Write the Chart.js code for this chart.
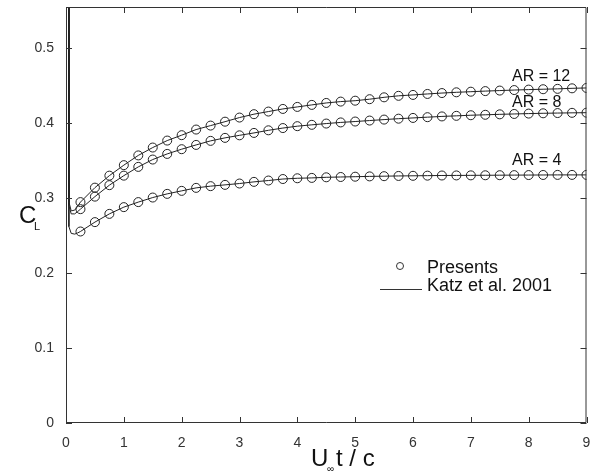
<!DOCTYPE html>
<html lang="en">
<head>
    <meta charset="UTF-8">
    <title>CL vs time</title>
    <style>
        body {
            margin: 0;
            padding: 0;
            background: #fff;
            overflow: hidden;
        }
        canvas {
            display: block;
        }
    </style>
</head>
<body>
    <canvas id="plot" width="592" height="472"></canvas>

    <script src="https://cdn.jsdelivr.net/npm/chart.js"></script>
    <script>
        // time samples of the "Presents" markers (U t / c)
        const timeSteps = [0.25, 0.5, 0.75, 1, 1.25, 1.5, 1.75, 2, 2.25, 2.5, 2.75, 3,
            3.25, 3.5, 3.75, 4, 4.25, 4.5, 4.75, 5, 5.25, 5.5, 5.75, 6,
            6.25, 6.5, 6.75, 7, 7.25, 7.5, 7.75, 8, 8.25, 8.5, 8.75, 9];

        const presentsAR12 = [0.2947, 0.314, 0.330, 0.344, 0.357, 0.3675, 0.3768, 0.384, 0.3915, 0.3968, 0.402, 0.4075,
            0.412, 0.4155, 0.419, 0.4217, 0.4244, 0.427, 0.4288, 0.430, 0.432, 0.4345, 0.4365, 0.4377,
            0.439, 0.4402, 0.4412, 0.442, 0.4428, 0.4435, 0.4442, 0.4448, 0.4453, 0.4458, 0.4465, 0.447];
        const presentsAR8 = [0.2853, 0.302, 0.3173, 0.330, 0.3417, 0.3515, 0.359, 0.3653, 0.371, 0.3764, 0.3804, 0.3838,
            0.387, 0.3905, 0.3935, 0.396, 0.3978, 0.3995, 0.401, 0.4022, 0.4035, 0.4048, 0.406, 0.407,
            0.408, 0.409, 0.4098, 0.4106, 0.4112, 0.4118, 0.4123, 0.4128, 0.4132, 0.4135, 0.4138, 0.414];
        const presentsAR4 = [0.2555, 0.268, 0.279, 0.288, 0.2947, 0.3008, 0.3057, 0.3097, 0.3137, 0.316, 0.3177, 0.3195,
            0.3217, 0.3235, 0.3255, 0.3265, 0.327, 0.3278, 0.3282, 0.3286, 0.329, 0.3293, 0.3296, 0.3298,
            0.330, 0.3302, 0.3303, 0.3304, 0.3305, 0.3306, 0.3307, 0.3308, 0.3309, 0.331, 0.331, 0.331];

        // Katz et al. 2001: impulsive start before the first marker, then it runs through the markers
        const katzStartX = [0.045, 0.05, 0.09, 0.15, 0.2];
        const katzStartAR12 = [0.6, 0.295, 0.283, 0.284, 0.289];
        const katzStartAR8 = [0.6, 0.29, 0.279, 0.279, 0.282];
        const katzStartAR4 = [0.6, 0.262, 0.253, 0.252, 0.2535];

        const xTicks = [0, 1, 2, 3, 4, 5, 6, 7, 8, 9];
        const yTicks = [0, 0.1, 0.2, 0.3, 0.4, 0.5];
        const curveLabels = ['AR = 12', 'AR = 8', 'AR = 4'];

        function toPoints(xs, ys) {
            return xs.map((x, i) => ({ x: x, y: ys[i] }));
        }

        function katzLine(startY, values) {
            return toPoints(katzStartX.concat(timeSteps), startY.concat(values));
        }

        const ink = '#222';
        const fontFamily = '"Liberation Sans", Arial, sans-serif';
        Chart.defaults.font.family = fontFamily;
        Chart.defaults.color = '#333';

        function presentsSet(values) {
            return {
                label: 'Presents',
                data: toPoints(timeSteps, values),
                showLine: false,
                pointStyle: 'circle',
                pointRadius: 4.5,
                pointBorderWidth: 1,
                pointBorderColor: ink,
                pointBackgroundColor: 'rgba(0,0,0,0)'
            };
        }

        function katzSet(startY, values) {
            return {
                label: 'Katz et al. 2001',
                data: katzLine(startY, values),
                showLine: true,
                borderColor: ink,
                borderWidth: 1,
                pointRadius: 0,
                tension: 0
            };
        }

        // frame, inward ticks, axis titles, legend and curve labels
        const decorations = {
            id: 'decorations',
            afterDraw(chart) {
                const ctx = chart.ctx;
                const a = chart.chartArea;
                const xs = chart.scales.x;
                const ys = chart.scales.y;
                ctx.save();
                ctx.strokeStyle = '#333';
                ctx.lineWidth = 1;
                ctx.beginPath();
                ctx.moveTo(a.left + 0.5, a.top + 0.5);
                ctx.lineTo(a.right - 0.5, a.top + 0.5);
                ctx.lineTo(a.right - 0.5, a.bottom - 0.5);
                ctx.lineTo(a.left + 0.5, a.bottom - 0.5);
                ctx.closePath();
                xTicks.forEach(v => {
                    const px = Math.round(xs.getPixelForValue(v)) + 0.5;
                    ctx.moveTo(px, a.bottom);
                    ctx.lineTo(px, a.bottom - 6);
                    ctx.moveTo(px, a.top);
                    ctx.lineTo(px, a.top + 6);
                });
                yTicks.forEach(v => {
                    const py = Math.round(ys.getPixelForValue(v)) + 0.5;
                    ctx.moveTo(a.left, py);
                    ctx.lineTo(a.left + 6, py);
                    ctx.moveTo(a.right, py);
                    ctx.lineTo(a.right - 6, py);
                });
                ctx.stroke();

                ctx.fillStyle = '#111';
                ctx.textBaseline = 'alphabetic';
                ctx.textAlign = 'left';

                // y title C_L
                ctx.font = '24px ' + fontFamily;
                ctx.fillText('C', 19, 223);
                ctx.font = '11px ' + fontFamily;
                ctx.fillText('L', 34, 230);

                // x title U_inf t / c
                ctx.font = '24px ' + fontFamily;
                ctx.fillText('U', 311, 466);
                ctx.font = '10px ' + fontFamily;
                ctx.fillText('\u221E', 327, 472);
                ctx.font = '24px ' + fontFamily;
                ctx.fillText('t / c', 336, 466);

                // curve labels
                ctx.font = '16px ' + fontFamily;
                ctx.fillText(curveLabels[0], 512, 81);
                ctx.fillText(curveLabels[1], 512, 107);
                ctx.fillText(curveLabels[2], 512, 165);

                // legend
                ctx.font = '18px ' + fontFamily;
                ctx.beginPath();
                ctx.arc(400, 266, 3.5, 0, Math.PI * 2);
                ctx.stroke();
                ctx.fillText('Presents', 427, 273);
                ctx.beginPath();
                ctx.moveTo(380, 289.5);
                ctx.lineTo(422, 289.5);
                ctx.stroke();
                ctx.fillText('Katz et al. 2001', 427, 291);
                ctx.restore();
            }
        };

        const ctx = document.getElementById('plot').getContext('2d');
        new Chart(ctx, {
            type: 'scatter',
            data: {
                datasets: [
                    presentsSet(presentsAR12),
                    presentsSet(presentsAR8),
                    presentsSet(presentsAR4),
                    katzSet(katzStartAR12, presentsAR12),
                    katzSet(katzStartAR8, presentsAR8),
                    katzSet(katzStartAR4, presentsAR4)
                ]
            },
            options: {
                responsive: false,
                animation: false,
                layout: { padding: { top: 7, right: 1, left: 0, bottom: 0 } },
                plugins: {
                    legend: { display: false },
                    tooltip: { enabled: false }
                },
                scales: {
                    x: {
                        type: 'linear',
                        min: 0,
                        max: 9,
                        grid: { display: false },
                        border: { display: false },
                        ticks: { stepSize: 1, padding: 4, font: { size: 14 }, maxRotation: 0 },
                        afterBuildTicks: scale => { scale.ticks = xTicks.map(v => ({ value: v })); },
                        afterFit: scale => {
                            scale.height = 49;
                            scale.paddingLeft = 0;
                            scale.paddingRight = 0;
                        }
                    },
                    y: {
                        type: 'linear',
                        min: 0,
                        max: 0.555,
                        grid: { display: false },
                        border: { display: false },
                        ticks: { padding: 4, font: { size: 14 } },
                        afterBuildTicks: scale => { scale.ticks = yTicks.map(v => ({ value: v })); },
                        afterFit: scale => {
                            scale.width = 66;
                            scale.paddingTop = 0;
                            scale.paddingBottom = 0;
                        }
                    }
                }
            },
            plugins: [decorations]
        });
    </script>
</body>
</html>
